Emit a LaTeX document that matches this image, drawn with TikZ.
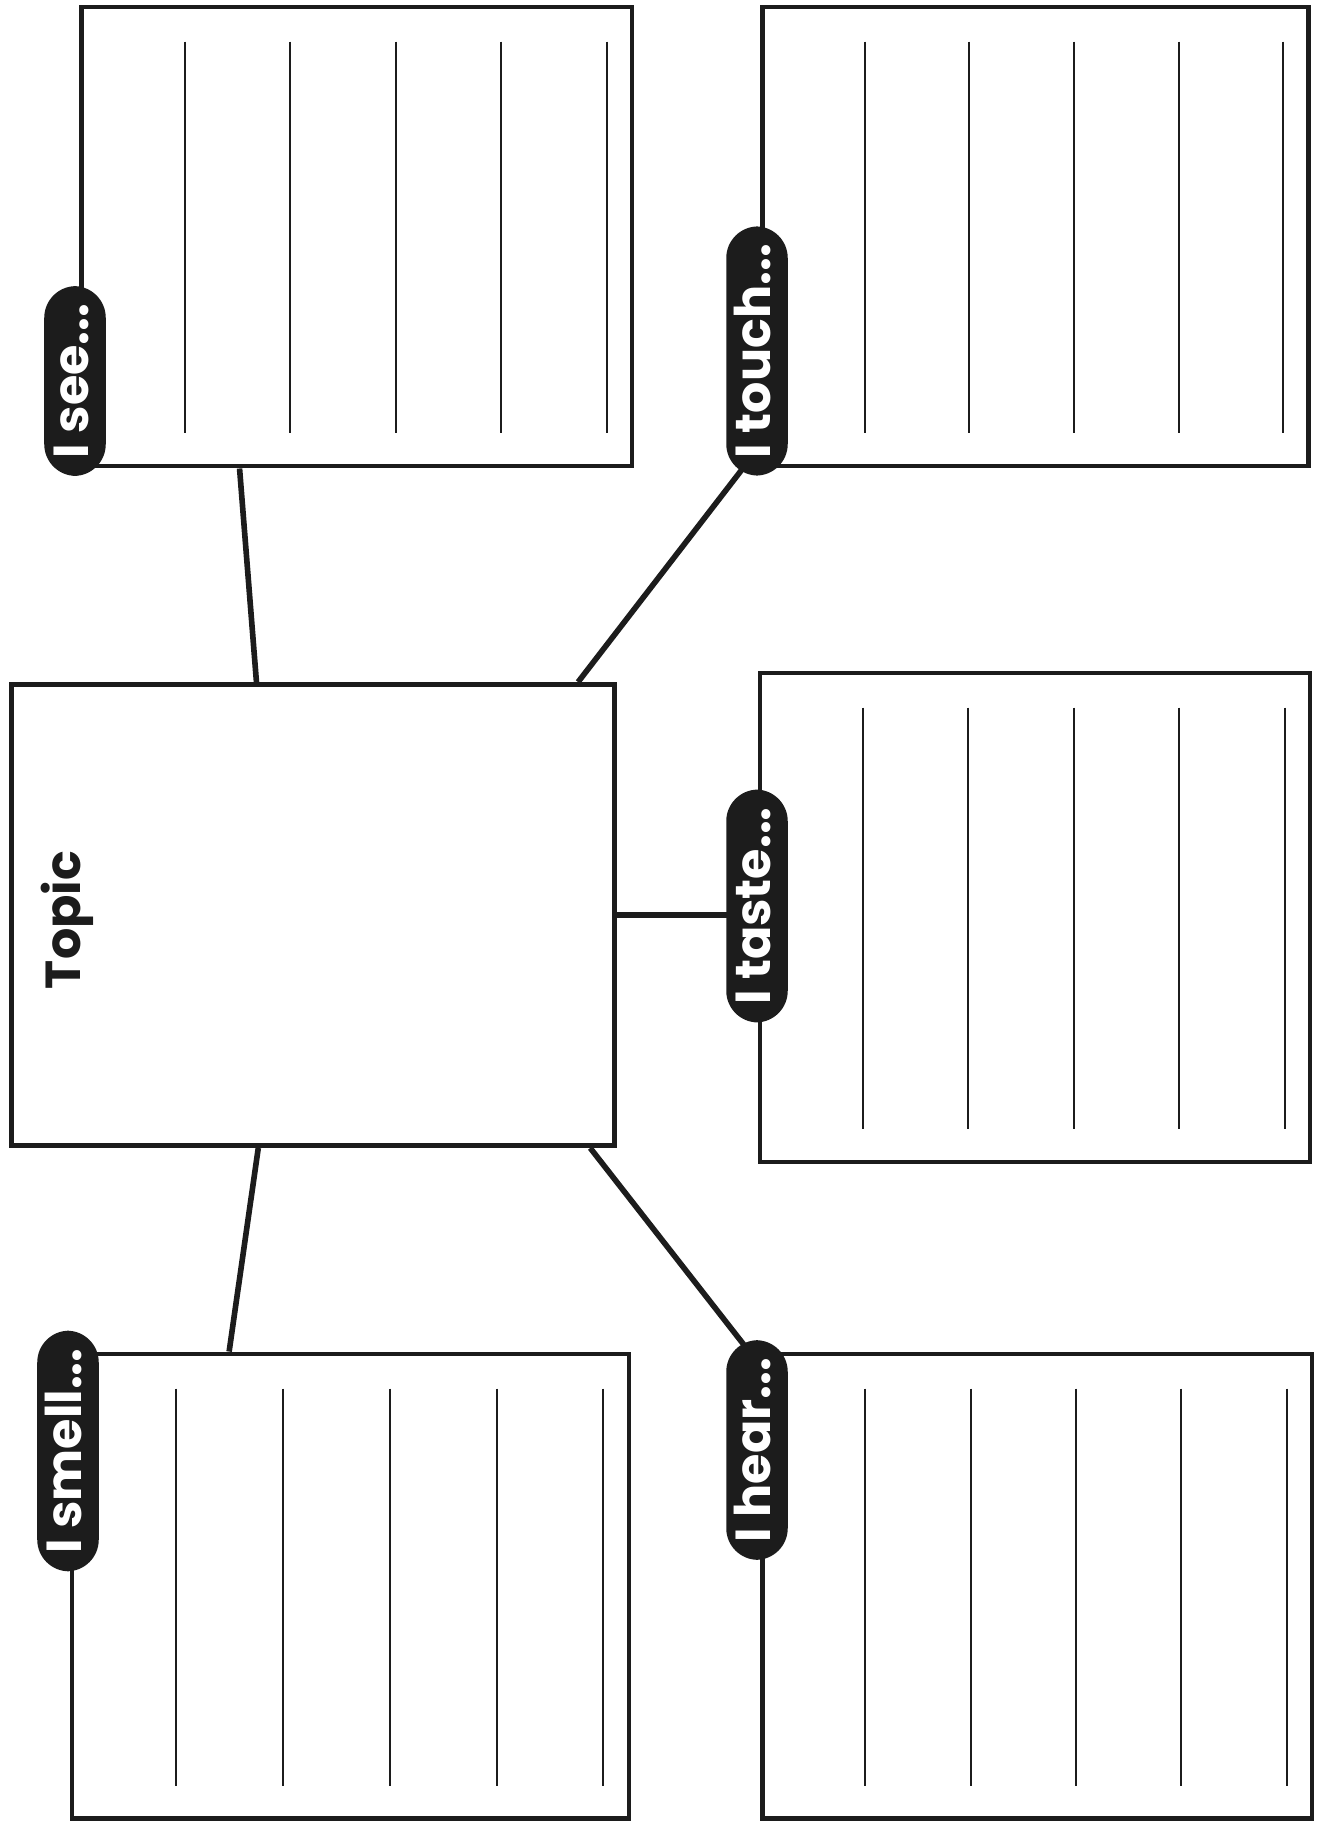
\documentclass[tikz,border=0pt]{standalone}
\usepackage{fontspec}
\setmainfont{Poppins}
\usepackage{tikz}
\usetikzlibrary{calc, positioning, backgrounds}
\definecolor{InkBlack}{RGB}{28,28,28}

\begin{document}
\begin{tikzpicture}[
  font=\bfseries\fontsize{14}{16}\selectfont,
  box/.style={draw=InkBlack, line width=1.4pt, inner sep=0pt},
  ruled/.style={draw=InkBlack, line width=0.6pt},
  link/.style={draw=InkBlack, line width=1.6pt},
  sense/.style={fill=InkBlack, text=white, rotate=90, rounded corners=9pt,
    inner xsep=5pt, inner ysep=5pt, text height=0.75em, text depth=0pt},
]
\useasboundingbox (0,0) rectangle (13.19,-18.26);

% Centre box
\node[box, minimum width=6.03cm, minimum height=4.61cm] (topic) at (3.13,-9.15) {};
\node[rotate=90, InkBlack] (topictext) at (0.67,-9.2) {Topic};

% Sense boxes
\node[box, minimum width=5.505cm, minimum height=4.59cm]  (see)   at (3.5675,-2.365) {};
\node[box, minimum width=5.46cm,  minimum height=4.59cm]  (touch) at (10.355,-2.365) {};
\node[box, minimum width=5.50cm,  minimum height=4.89cm]  (taste) at (10.35,-9.175) {};
\node[box, minimum width=5.57cm,  minimum height=4.645cm] (smell) at (3.505,-15.8625) {};
\node[box, minimum width=5.495cm, minimum height=4.645cm] (hear)  at (10.3725,-15.8625) {};

% Writing lines
\foreach \b in {see,touch,taste,smell,hear}
  \foreach \k in {1,...,5}
    \draw[ruled] ($(\b.north west)!{0.19*\k}!(\b.north east) + (0,-0.37)$)
      -- ($(\b.south west)!{0.19*\k}!(\b.south east) + (0,0.35)$);

% Labels
\node[sense] (seelbl)   at (0.75,-3.81)   {I see...};
\node[sense] (touchlbl) at (7.57,-3.51)   {I touch...};
\node[sense] (tastelbl) at (7.57,-9.06)   {I taste...};
\node[sense] (smelllbl) at (0.68,-14.51)  {I smell...};
\node[sense] (hearlbl)  at (7.57,-14.50)  {I hear...};

% Connectors (behind the labels)
\begin{scope}[on background layer]
\draw[link] ($(topic.north west)!0.407!(topic.north east)$) -- ($(see.south west)!0.289!(see.south east)$);
\draw[link] ($(topic.north west)!0.936!(topic.north east)$) -- ($(touchlbl.north west)!0.3!(touchlbl.south west) + (0,0.1)$);
\draw[link] (topic.east) -- ($(topic.east -| tastelbl.north) + (0.1,0)$);
\draw[link] ($(topic.south west)!0.41!(topic.south east)$) -- ($(smell.north west)!0.284!(smell.north east)$);
\draw[link] ($(topic.south west)!0.956!(topic.south east)$) -- ($(hearlbl.north east)!0.35!(hearlbl.south east) + (0,-0.1)$);
\end{scope}

\end{tikzpicture}
\end{document}
